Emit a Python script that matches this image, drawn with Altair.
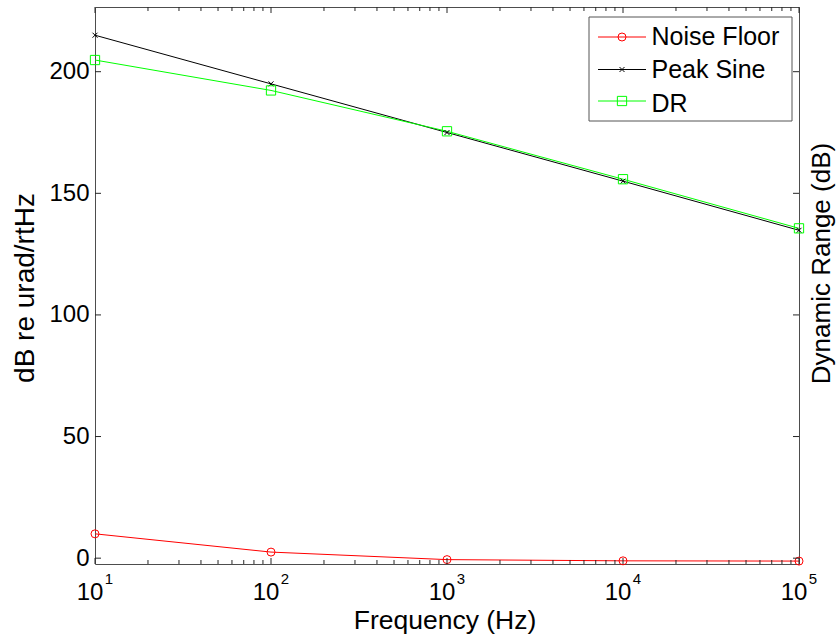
import altair as alt
import pandas as pd

# ---------------- data ----------------
freq = [10, 100, 1000, 10000, 100000]
noise_floor = [10.0, 2.5, -0.6, -1.1, -1.2]
peak_sine = [215.0, 195.0, 175.0, 155.0, 134.8]
dyn_range = [204.8, 192.3, 175.5, 155.8, 135.6]

series_names = ["Noise Floor", "Peak Sine", "DR"]
series_colors = ["#FF0000", "#000000", "#00FF00"]

x_major = [10, 100, 1000, 10000, 100000]
x_exponents = ["1", "2", "3", "4", "5"]
y_major = [0, 50, 100, 150, 200]

# ---------------- layout ----------------
W, H = 704, 557
FONT = "Liberation Sans"
X_PATH = "M-1,-1L1,1M-1,1L1,-1"
shapes = ["circle", X_PATH, "square"]
sizes = [64, 25, 86]

rows = []
for name, vals in zip(series_names, [noise_floor, peak_sine, dyn_range]):
    for f, v in zip(freq, vals):
        rows.append({"f": f, "v": v, "series": name})
df = pd.DataFrame(rows)

xs = alt.Scale(type="log", domain=[10, 100000], nice=False)
ys = alt.Scale(domain=[-2.4, 226.6], nice=False, zero=False)

ax_x = alt.Axis(title="Frequency (Hz)", labels=False, ticks=False,
                domain=False, grid=False, titleFontSize=26.5,
                titleFontWeight="normal", titleColor="black",
                titleFont=FONT, titleX=349.5, titleY=64.5,
                titleAlign="center", titleBaseline="alphabetic")
ax_y = alt.Axis(title="dB re urad/rtHz", values=y_major, ticks=False,
                tickSize=0, domain=False, grid=False,
                labelFontSize=24, labelPadding=6, labelColor="black",
                labelFont=FONT, titleFont=FONT, titleFontSize=28,
                titleFontWeight="normal", titleColor="black",
                titleX=-62, titleY=280.5, titleAngle=270,
                titleAlign="center", titleBaseline="alphabetic")


def X(field):
    return alt.X(field, scale=xs, axis=ax_x)


def Y(field):
    return alt.Y(field, scale=ys, axis=ax_y)


color = alt.Color("series:N",
                  scale=alt.Scale(domain=series_names, range=series_colors),
                  legend=None)

lines = alt.Chart(df).mark_line(strokeWidth=1).encode(
    x=X("f:Q"), y=Y("v:Q"), color=color,
)

layers = [lines]

for name, c, shp, sz in zip(series_names, series_colors, shapes, sizes):
    sub = df[df["series"] == name]
    layers.append(
        alt.Chart(sub).mark_point(filled=False, strokeWidth=1, opacity=1,
                                  color=c, shape=shp, size=sz).encode(
            x=X("f:Q"), y=Y("v:Q"),
        )
    )

# ---------------- inward ticks (MATLAB style) ----------------
x_minor = [m * d for d in x_major[:-1] for m in range(2, 10)]
tick_color = "#262626"
xmaj_df = pd.DataFrame({"f": x_major})
xmin_df = pd.DataFrame({"f": x_minor})
ymaj_df = pd.DataFrame({"v": y_major})

for tdf, ln in [(xmaj_df, 6), (xmin_df, 4)]:
    layers.append(alt.Chart(tdf).mark_rule(color=tick_color, strokeWidth=1).encode(
        x=X("f:Q"), y=alt.value(H), y2=alt.value(H - ln)))
    layers.append(alt.Chart(tdf).mark_rule(color=tick_color, strokeWidth=1).encode(
        x=X("f:Q"), y=alt.value(0), y2=alt.value(ln)))

layers.append(alt.Chart(ymaj_df).mark_rule(color=tick_color, strokeWidth=1).encode(
    y=Y("v:Q"), x=alt.value(0), x2=alt.value(6)))
layers.append(alt.Chart(ymaj_df).mark_rule(color=tick_color, strokeWidth=1).encode(
    y=Y("v:Q"), x=alt.value(W), x2=alt.value(W - 6)))

# ---------------- x tick labels 10^n ----------------
xl_df = pd.DataFrame({"f": x_major, "e": x_exponents})
layers.append(alt.Chart(xl_df).mark_text(text="10", font=FONT, fontSize=24,
                                         color="black", align="center",
                                         baseline="alphabetic", dx=-5).encode(
    x=X("f:Q"), y=alt.value(593)))
layers.append(alt.Chart(xl_df).mark_text(font=FONT, fontSize=15, color="black",
                                         align="center", baseline="alphabetic",
                                         dx=14).encode(
    x=X("f:Q"), y=alt.value(577), text="e:N"))

# ---------------- right axis title ----------------
one = pd.DataFrame({"k": [0]})
layers.append(alt.Chart(one).mark_text(text="Dynamic Range (dB)", font=FONT,
                                       fontSize=26, color="black", angle=270,
                                       align="center", baseline="alphabetic").encode(
    x=alt.value(734.5), y=alt.value(256.5)))

# ---------------- legend ----------------
layers.append(alt.Chart(one).mark_rect(fill="white", stroke="#555555",
                                       strokeWidth=1).encode(
    x=alt.value(494), x2=alt.value(697), y=alt.value(10), y2=alt.value(114)))
leg_y = [30, 62.5, 94]
leg_base = [38, 71.3, 104.7]
for i, (name, c, shp, sz) in enumerate(zip(series_names, series_colors, shapes, sizes)):
    layers.append(alt.Chart(one).mark_rule(color=c, strokeWidth=1).encode(
        x=alt.value(503), x2=alt.value(551), y=alt.value(leg_y[i])))
    layers.append(alt.Chart(one).mark_point(filled=False, strokeWidth=1, opacity=1,
                                            color=c, shape=shp, size=sz).encode(
        x=alt.value(527), y=alt.value(leg_y[i])))
    layers.append(alt.Chart(one).mark_text(text=name, font=FONT, fontSize=25,
                                           color="black", align="left",
                                           baseline="alphabetic").encode(
        x=alt.value(556.5), y=alt.value(leg_base[i])))

chart = alt.layer(*layers).properties(
    width=W, height=H,
    autosize=alt.AutoSizeParams(type="none"),
    padding={"left": 95, "top": 7, "right": 38, "bottom": 74},
    background="white",
).configure_view(
    stroke="#4d4d4d", strokeWidth=1
).configure_axis(
    labelFont=FONT, titleFont=FONT
)

chart.save("out.html", embed_options={"renderer": "svg", "actions": False})
